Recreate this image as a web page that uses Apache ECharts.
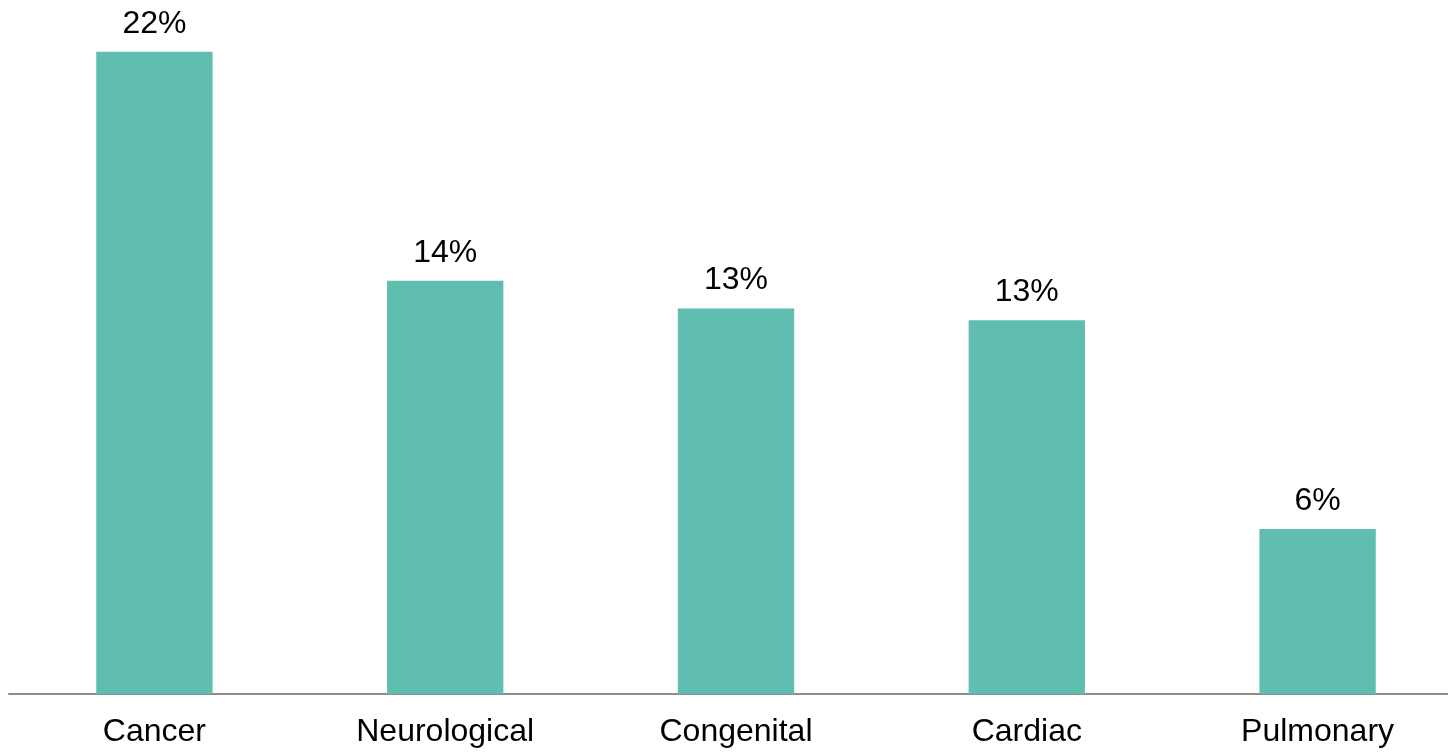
<!DOCTYPE html>
<html>
<head>
<meta charset="utf-8">
<script src="https://cdn.jsdelivr.net/npm/echarts@6/dist/echarts.min.js"></script>
<style>
  html, body { margin: 0; padding: 0; background: #fff; overflow: hidden; }
  /* chart is a bit wider than the window so the last slot runs off the edge, like the source */
  #chart { width: 1463px; height: 752px; }
</style>
</head>
<body>
<div id="chart"></div>
<script>
// categories and share of cases (%)
const categories = ["Cancer", "Neurological", "Congenital", "Cardiac", "Pulmonary"];
const shares = [22, 14.15, 13.2, 12.8, 5.65];

const chart = echarts.init(document.getElementById("chart"));
const option = {
  animation: false,
  grid: { left: 9, right: 0, top: 0, bottom: 58 },
  xAxis: {
    type: "category",
    data: categories,
    axisTick: { show: false },
    axisLine: { lineStyle: { color: "#8c8c8c", width: 2 } },
    axisLabel: {
      color: "#000",
      fontSize: 32,
      fontFamily: "Liberation Sans, Arial, sans-serif",
      margin: 22,
    },
  },
  yAxis: {
    type: "value",
    min: 0,
    max: 23.77,
    show: false,
  },
  series: [
    {
      type: "bar",
      data: shares,
      barWidth: "40%",
      itemStyle: { color: "#60beb1" },
      label: {
        show: true,
        position: "top",
        distance: 12,
        color: "#000",
        fontSize: 32,
        fontFamily: "Liberation Sans, Arial, sans-serif",
        formatter: (p) => Math.round(p.value) + "%",
      },
    },
  ],
};
chart.setOption(option);
</script>
</body>
</html>
